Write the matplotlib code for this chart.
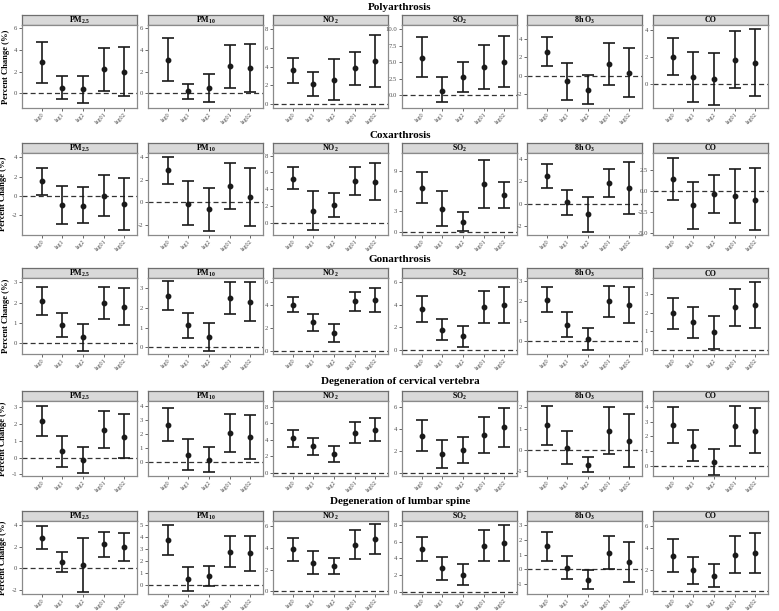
import matplotlib
matplotlib.use('Agg')
import matplotlib.pyplot as plt
from matplotlib.ticker import FuncFormatter

plt.rcParams['font.family'] = 'Liberation Serif'
plt.rcParams['mathtext.fontset'] = 'custom'
plt.rcParams['mathtext.rm'] = 'Liberation Serif:bold'
plt.rcParams['mathtext.default'] = 'rm'

lags = ['lag0', 'lag1', 'lag2', 'lag01', 'lag02']
pollutants = ['PM$_{2.5}$', 'PM$_{10}$', 'NO$_{2}$', 'SO$_{2}$', '8h O$_{3}$', 'CO']
outcomes = ['Polyarthrosis', 'Coxarthrosis', 'Gonarthrosis',
            'Degeneration of cervical vertebra', 'Degeneration of lumbar spine']

# one row per pollutant, values for lag0, lag1, lag2, lag01, lag02
poly_est = [[2.87, 0.47, 0.37, 2.2, 2.0],
            [3.1, 0.2, 0.5, 2.5, 2.3],
            [3.6, 2.1, 2.6, 3.8, 4.6],
            [5.7, 0.7, 2.7, 4.2, 5.1],
            [2.55, -0.6, -1.5, 1.3, 0.3],
            [2.0, 0.5, 0.35, 1.75, 1.55]]
poly_lo = [[1.0, -0.56, -0.9, 0.22, -0.2],
           [1.1, -0.5, -0.8, 0.5, 0.1],
           [2.25, 0.9, 0.45, 2.05, 1.8],
           [2.7, -1.0, 0.5, 0.9, 1.2],
           [1.0, -2.6, -3.1, -1.0, -2.35],
           [0.65, -1.35, -1.6, -0.3, -0.9]]
poly_hi = [[4.75, 1.56, 1.6, 4.2, 4.25],
           [5.1, 0.9, 1.8, 4.5, 4.55],
           [4.95, 3.45, 4.85, 5.6, 7.4],
           [8.8, 2.8, 5.0, 7.6, 9.0],
           [4.15, 1.4, 0.05, 3.6, 3.0],
           [3.4, 2.35, 2.25, 3.9, 4.05]]

cox_est = [[1.5, -0.95, -1.0, 0.0, -0.85],
           [2.85, -0.1, -0.6, 1.45, 0.5],
           [5.25, 1.4, 2.1, 4.95, 4.9],
           [6.5, 3.4, 1.5, 7.05, 5.45],
           [2.45, 0.1, -0.95, 1.85, 1.35],
           [1.38, -1.7, -0.32, -0.63, -1.07]]
cox_lo = [[0.1, -2.9, -2.8, -2.1, -3.5],
          [1.65, -2.05, -2.5, -0.55, -2.1],
          [4.0, -0.9, 0.7, 3.3, 2.75],
          [4.2, 0.9, 0.1, 3.5, 3.55],
          [1.35, -1.0, -2.5, 0.55, -0.95],
          [-1.1, -4.47, -2.57, -3.83, -4.66]]
cox_hi = [[2.9, 1.05, 0.9, 2.2, 1.9],
          [4.05, 1.9, 1.3, 3.5, 3.05],
          [6.6, 3.75, 3.5, 6.6, 7.05],
          [8.8, 6.0, 2.9, 10.7, 7.4],
          [3.55, 1.25, 0.6, 3.1, 3.7],
          [3.87, 1.07, 1.9, 2.65, 2.69]]

gon_est = [[2.08, 0.9, 0.3, 1.98, 1.8],
           [2.6, 1.12, 0.52, 2.48, 2.3],
           [4.0, 2.5, 1.5, 4.3, 4.45],
           [3.65, 1.75, 1.2, 3.75, 3.95],
           [2.07, 0.8, 0.1, 2.0, 1.8],
           [1.95, 1.48, 0.95, 2.27, 2.4]]
gon_lo = [[1.38, 0.32, -0.35, 1.18, 0.9],
          [1.9, 0.5, -0.2, 1.67, 1.35],
          [3.35, 1.75, 0.75, 3.5, 3.4],
          [2.45, 0.85, 0.3, 2.35, 2.35],
          [1.45, 0.18, -0.45, 1.22, 0.9],
          [1.15, 0.67, 0.05, 1.28, 1.18]]
gon_hi = [[2.78, 1.5, 0.95, 2.77, 2.7],
          [3.35, 1.73, 1.23, 3.3, 3.3],
          [4.65, 3.2, 2.3, 5.15, 5.5],
          [4.8, 2.7, 2.1, 5.2, 5.6],
          [2.68, 1.43, 0.65, 2.77, 2.68],
          [2.75, 2.3, 1.83, 3.27, 3.62]]

cerv_est = [[2.2, 0.37, -0.15, 1.65, 1.25],
            [2.65, 0.52, 0.12, 2.07, 1.78],
            [4.15, 3.2, 2.25, 4.85, 5.2],
            [3.35, 1.7, 2.05, 3.45, 4.1],
            [1.15, 0.1, -0.7, 0.9, 0.43],
            [2.77, 1.38, 0.3, 2.7, 2.38]]
cerv_lo = [[1.27, -0.55, -0.95, 0.58, -0.05],
           [1.5, -0.55, -0.75, 0.72, 0.22],
           [3.15, 2.2, 1.35, 3.6, 3.8],
           [1.95, 0.4, 0.92, 1.83, 2.3],
           [0.25, -0.67, -1.05, -0.2, -0.8],
           [1.55, 0.33, -0.6, 1.37, 0.88]]
cerv_hi = [[3.1, 1.3, 0.65, 2.78, 2.57],
           [3.83, 1.62, 1.05, 3.42, 3.35],
           [5.2, 4.25, 3.2, 6.1, 6.6],
           [4.75, 2.95, 3.22, 5.05, 5.9],
           [2.07, 0.87, -0.35, 2.03, 1.68],
           [4.0, 2.42, 1.18, 4.05, 3.9]]

lumb_est = [[2.85, 0.6, 0.3, 2.25, 1.95],
            [3.72, 0.5, 0.75, 2.78, 2.65],
            [3.9, 2.65, 2.38, 4.3, 4.8],
            [5.1, 2.8, 2.05, 5.55, 5.85],
            [1.55, 0.07, -0.72, 1.13, 0.5],
            [3.25, 1.95, 1.45, 3.4, 3.55]]
lumb_lo = [[1.8, -0.3, -2.15, 1.1, 0.7],
           [2.5, -0.5, -0.05, 1.48, 1.2],
           [2.8, 1.62, 1.65, 3.0, 3.45],
           [3.65, 1.45, 0.8, 3.7, 3.75],
           [0.55, -0.7, -1.38, 0.0, -0.85],
           [1.8, 0.7, 0.42, 1.72, 1.72]]
lumb_hi = [[3.9, 1.55, 2.8, 3.4, 3.25],
           [4.95, 1.5, 1.6, 4.1, 4.1],
           [4.95, 3.7, 3.12, 5.65, 6.2],
           [6.6, 4.2, 3.35, 7.4, 8.0],
           [2.55, 0.87, -0.07, 2.25, 1.85],
           [4.8, 3.2, 2.57, 5.1, 5.38]]

# axis ranges and ticks for each panel
ylims = [
    [(-1.35, 6.3), (-1.35, 6.3), (-0.43, 8.45), (-1.9, 10.6), (-3.5, 5.5), (-1.8, 4.35)],
    [(-4.05, 4.45), (-2.9, 4.4), (-1.48, 8.3), (-0.5, 11.7), (-2.8, 4.5), (-5.2, 4.5)],
    [(-0.52, 3.2), (-0.33, 3.5), (-0.3, 6.35), (-0.35, 6.35), (-0.65, 3.15), (-0.2, 3.83)],
    [(-1.1, 3.37), (-1.0, 4.33), (-0.4, 8.67), (-0.3, 6.5), (-1.23, 2.3), (-0.68, 4.4)],
    [(-2.37, 4.4), (-0.73, 5.3), (-0.24, 6.5), (-0.27, 8.5), (-1.7, 3.29), (-0.24, 6.5)],
]
yticks = [
    [[0, 2, 4, 6], [0, 2, 4, 6], [0, 2, 4, 6, 8], [0, 2.5, 5, 7.5, 10], [-2, 0, 2, 4], [0, 2, 4]],
    [[-2, 0, 2, 4], [-2, 0, 2, 4], [0, 2, 4, 6, 8], [0, 3, 6, 9], [-2, 0, 2, 4], [-5, -2.5, 0, 2.5]],
    [[0, 1, 2, 3], [0, 1, 2, 3], [0, 2, 4, 6], [0, 2, 4, 6], [0, 1, 2, 3], [0, 1, 2, 3]],
    [[-1, 0, 1, 2, 3], [0, 1, 2, 3, 4], [0, 2, 4, 6, 8], [0, 2, 4, 6], [-1, 0, 1, 2], [0, 1, 2, 3, 4]],
    [[-2, 0, 2, 4], [0, 1, 2, 3, 4, 5], [0, 2, 4, 6], [0, 2, 4, 6, 8], [-1, 0, 1, 2, 3], [0, 2, 4, 6]],
]

est_all = [poly_est, cox_est, gon_est, cerv_est, lumb_est]
lo_all = [poly_lo, cox_lo, gon_lo, cerv_lo, lumb_lo]
hi_all = [poly_hi, cox_hi, gon_hi, cerv_hi, lumb_hi]

W, H = 779, 611
fig = plt.figure(figsize=(W / 100, H / 100), dpi=100)

col_left = [22, 148, 273, 402, 527, 653]
col_w = 115
strip_top = [15, 143, 268, 391, 511]
strip_h = 10
panel_h = [83, 82, 76, 75, 73]
title_y = [8, 135, 260, 382, 502]
border = '#8a8a8a'
x = list(range(1, len(lags) + 1))


def fmt_tick(v, pos, ticks):
    if any(t != int(t) for t in ticks):
        return '%.1f' % v
    return '%d' % v


for r in range(5):
    fig.text(400 / W, 1 - title_y[r] / H, outcomes[r], ha='center', va='center',
             fontsize=8, fontweight='bold')
    for c in range(6):
        l = col_left[c] / W
        w = col_w / W
        st = strip_top[r]
        sax = fig.add_axes([l, 1 - (st + strip_h) / H, w, strip_h / H])
        sax.set_facecolor('#d9d9d9')
        sax.set_xticks([])
        sax.set_yticks([])
        for s in sax.spines.values():
            s.set_color('#6e6e6e')
            s.set_linewidth(0.9)
        sax.text(0.5, 0.45, pollutants[c], ha='center', va='center',
                 fontsize=5.8, fontweight='bold', transform=sax.transAxes)

        ax = fig.add_axes([l, 1 - (st + strip_h + panel_h[r]) / H, w, panel_h[r] / H])
        e = est_all[r][c]
        lo = lo_all[r][c]
        hi = hi_all[r][c]
        yerr = [[e[i] - lo[i] for i in range(5)], [hi[i] - e[i] for i in range(5)]]
        ax.axhline(0, color='#333333', ls=(0, (4, 2.5)), lw=0.9, zorder=1)
        ax.errorbar(x, e, yerr=yerr, fmt='o', color='#1a1a1a', ms=3.2,
                    capsize=4.5, elinewidth=1.2, capthick=1.2, zorder=3)
        ax.set_xlim(0.05, 5.62)
        ax.set_ylim(*ylims[r][c])
        tk = yticks[r][c]
        ax.set_yticks(tk)
        ax.yaxis.set_major_formatter(FuncFormatter(lambda v, p, tk=tk: fmt_tick(v, p, tk)))
        ax.set_xticks(x)
        ax.set_xticklabels(lags, rotation=45, ha='right', va='top', rotation_mode='anchor')
        ax.tick_params(axis='both', labelsize=4.8, colors='#4d4d4d', length=2,
                       width=0.6, pad=1.5)
        ax.tick_params(axis='x', labelsize=4.4, pad=1)
        for s in ax.spines.values():
            s.set_color(border)
            s.set_linewidth(0.9)
        if c == 0:
            ax.set_ylabel('Percent Change (%)', fontsize=6.2, fontweight='bold', labelpad=3)

fig.savefig('out.png', dpi=100)
